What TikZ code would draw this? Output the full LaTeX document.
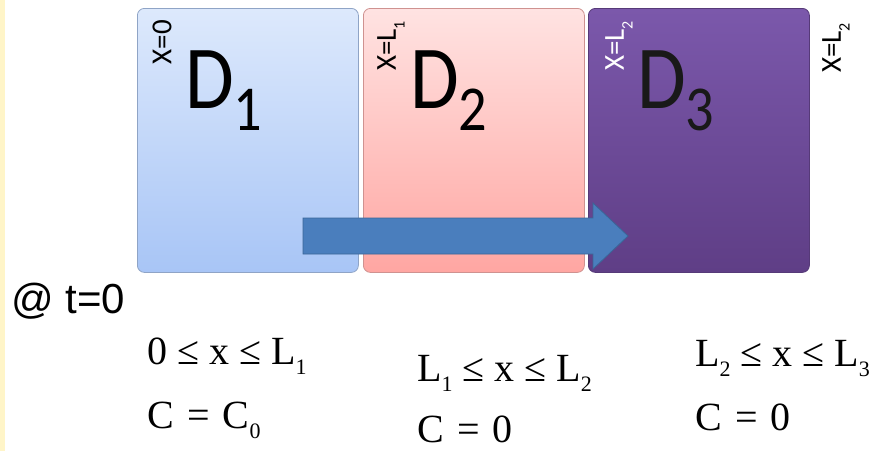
\documentclass[tikz,border=0pt]{standalone}
\usepackage{fontspec}
\setmainfont{Liberation Serif}
\newfontfamily\calib[FakeStretch=0.88]{Carlito}
\newfontfamily\calibn{Carlito}
\newfontfamily\arialf{Liberation Sans}
\usetikzlibrary{positioning}
\definecolor{stripyellow}{HTML}{FFF5C8}
\definecolor{oneTop}{HTML}{DDE9FC}
\definecolor{oneBot}{HTML}{A8C5F6}
\definecolor{oneLine}{HTML}{8FA4C6}
\definecolor{twoTop}{HTML}{FFE3E2}
\definecolor{twoBot}{HTML}{FFA6A2}
\definecolor{twoLine}{HTML}{CF9290}
\definecolor{threeTop}{HTML}{7B58AB}
\definecolor{threeBot}{HTML}{5F3E86}
\definecolor{threeLine}{HTML}{563A78}
\definecolor{flowblue}{HTML}{4A7EBD}
\definecolor{flowline}{HTML}{3A6597}
\tikzset{
  regionbox/.style={rounded corners=7pt, minimum width=221pt, minimum height=264pt, anchor=north west, inner sep=0pt, line width=0.8pt},
  bigD/.style={font=\calib\fontsize{90}{90}\selectfont, inner sep=0pt, anchor=base west},
  bndlabel/.style={font=\calibn\fontsize{29}{29}\selectfont, rotate=90, inner sep=0pt},
  eqn/.style={font=\fontsize{40}{40}\selectfont, inner sep=0pt, anchor=base west},
  flowarrow/.style={fill=flowblue, draw=flowline, line width=0.8pt}
}
\newcommand{\dsub}[1]{\raisebox{-22pt}{\fontsize{64}{64}\selectfont #1}}
\newcommand{\lsub}[1]{\raisebox{-0.3em}{\fontsize{0.55em}{0.55em}\selectfont #1}}
\newcommand{\esub}[1]{\raisebox{-0.25em}{\fontsize{22}{22}\selectfont #1}}
\newcommand{\rel}[1]{\hspace{0.08em}#1\hspace{0.08em}}

\begin{document}
\begin{tikzpicture}[x=1pt, y=-1pt]
  \useasboundingbox (0,0) rectangle (887,451);
  \fill[stripyellow] (0,0) rectangle (5,451);

  % the three regions
  \node[regionbox, draw=oneLine, top color=oneTop, bottom color=oneBot] (r1) at (137,8) {};
  \node[regionbox, draw=twoLine, top color=twoTop, bottom color=twoBot] (r2) at (363,8) {};
  \node[regionbox, draw=threeLine, top color=threeTop, bottom color=threeBot] (r3) at (588,8) {};

  \node[bigD] (d1) at (185,108) {D\dsub{1}};
  \node[bigD] (d2) at (410,108) {D\dsub{2}};
  \node[bigD, text=black!90] (d3) at (637,108) {D\dsub{3}};

  % boundaries
  \node[bndlabel] (b0) at (162,42) {X=0};
  \node[bndlabel] (b1) at (391,46) {X=L\lsub{1}};
  \node[bndlabel, text=white] (b2) at (619,46) {X=L\lsub{2}};
  \node[bndlabel] (b3) at (836,48) {X=L\lsub{2}};

  \draw[flowarrow] (303,218) -- (593,218) -- (593,203) -- (628,236) -- (593,269) -- (593,254) -- (303,254) -- cycle;

  \node[font=\arialf\fontsize{42}{42}\selectfont, inner sep=0pt, anchor=base west] (tzero) at (11,313) {@ t=0};

  \node[eqn] (e1) at (147,364) {0 ≤ x ≤ L\esub{1}};
  \node[eqn] (c1) at (147,428) {C \rel{=} C\esub{0}};
  \node[eqn] (e2) at (417,381) {L\esub{1} ≤ x ≤ L\esub{2}};
  \node[eqn] (c2) at (417,442) {C \rel{=} 0};
  \node[eqn] (e3) at (695,366) {L\esub{2} ≤ x ≤ L\esub{3}};
  \node[eqn] (c3) at (695,430) {C \rel{=} 0};
\end{tikzpicture}
\end{document}
